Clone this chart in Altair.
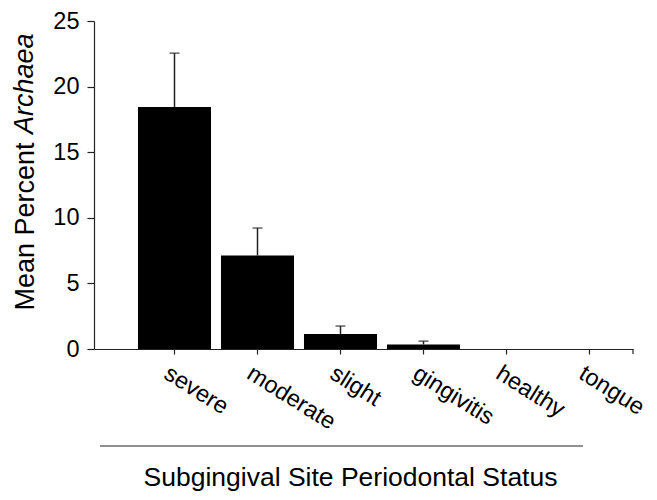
import altair as alt
import pandas as pd

categories = ["severe", "moderate", "slight", "gingivitis", "healthy", "tongue"]
means = [18.45, 7.12, 1.15, 0.35, 0.0, 0.0]
errors = [4.1, 2.1, 0.6, 0.25, 0.0, 0.0]

df = pd.DataFrame({"status": categories, "mean": means, "err": errors})
df["top"] = df["mean"] + df["err"]

FONT = "Liberation Sans"
W, H = 539, 328

xscale = alt.Scale(domain=categories, paddingInner=0.12, paddingOuter=0.307, align=0.863)
yscale = alt.Scale(domain=[0, 25], nice=False)

x_axis = alt.Axis(
    title="Subgingival Site Periodontal Status",
    titleFont=FONT, titleFontSize=26.5, titleFontWeight="normal", titleColor="black",
    titleX=256, titleY=136, titleAlign="center", titleBaseline="alphabetic", titleAnchor="start",
    labelFont=FONT, labelFontSize=23.5, labelColor="black", labelAngle=32,
    labelAlign="left", labelBaseline="top", labelPadding=7, labelOffset=-2,
    tickSize=5, tickColor="#222", tickWidth=1.2,
    domainColor="#222", domainWidth=1.2, grid=False,
)

y_axis = alt.Axis(
    title="Mean Percent",
    titleFont=FONT, titleFontSize=27, titleFontWeight="normal", titleColor="black",
    titleAngle=270, titleAlign="left", titleBaseline="alphabetic",
    titleX=-61, titleY=289, titleAnchor="start",
    values=[0, 2.5, 5, 7.5, 10, 12.5, 15, 17.5, 20, 22.5, 25],
    labelExpr="datum.value % 5 === 0 ? datum.label : ''",
    labelFont=FONT, labelFontSize=23.5, labelColor="black", labelPadding=8,
    tickSize={"condition": {"test": "datum.value % 5 === 0", "value": 7}, "value": 4},
    tickColor="#222", tickWidth=1.2,
    domainColor="#222", domainWidth=1.2, grid=False,
)

base = alt.Chart(df)

bars = base.mark_bar(color="black").encode(
    x=alt.X("status:N", scale=xscale, axis=x_axis, sort=categories),
    y=alt.Y("mean:Q", scale=yscale, axis=y_axis),
)

err_rule = base.transform_filter("datum.err > 0").mark_rule(color="#222", strokeWidth=1.5).encode(
    x=alt.X("status:N", sort=categories),
    y="mean:Q",
    y2="top:Q",
)

err_cap = base.transform_filter("datum.err > 0").mark_tick(color="#222", thickness=1.5, size=10).encode(
    x=alt.X("status:N", sort=categories),
    y="top:Q",
)

one = alt.Data(values=[{"k": 1}])

archaea = alt.Chart(one).mark_text(
    text="Archaea", font=FONT, fontSize=27, fontStyle="italic", angle=270,
    align="left", baseline="alphabetic", color="black",
).encode(x=alt.value(-61), y=alt.value(113))

title_rule = alt.Chart(one).mark_rule(color="#222", strokeWidth=1.2).encode(
    x=alt.value(6), x2=alt.value(489), y=alt.value(425)
)

end_tick = alt.Chart(one).mark_rule(color="#222", strokeWidth=1.2).encode(
    x=alt.value(W), y=alt.value(H), y2=alt.value(H + 5)
)

chart = alt.layer(bars, err_rule, err_cap, archaea, title_rule, end_tick).properties(
    width=W, height=H,
    autosize=alt.AutoSizeParams(type="none"),
    padding={"left": 86, "top": 13, "right": 16, "bottom": 143},
    background="white",
).configure_view(stroke=None)

chart.save("out.html", embed_options={"renderer": "svg", "actions": False})
